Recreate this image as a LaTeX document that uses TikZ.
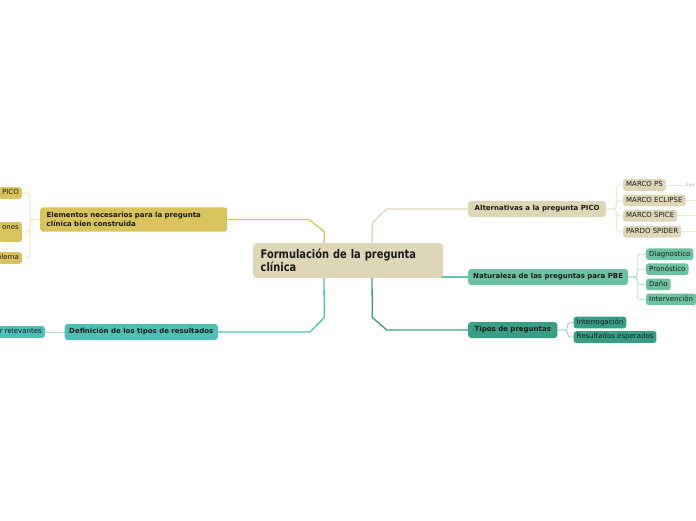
\documentclass[tikz,border=0pt]{standalone}
\usepackage{fontspec}
\setmainfont{DejaVu Sans}
\newfontfamily\rootfont[FakeStretch=0.83]{DejaVu Sans}
\usetikzlibrary{backgrounds}
\definecolor{rootc}{HTML}{DDD6B7}
\definecolor{goldc}{HTML}{D9C35C}
\definecolor{goldl}{HTML}{EFE4B0}
\definecolor{tealc}{HTML}{4DBFB5}
\definecolor{teall}{HTML}{A8DFDA}
\definecolor{beigec}{HTML}{DDD6B7}
\definecolor{beigel}{HTML}{EDE9DA}
\definecolor{mintc}{HTML}{6CC2A0}
\definecolor{mintl}{HTML}{B8E2D1}
\definecolor{greenc}{HTML}{3A9E86}
\definecolor{greenl}{HTML}{A3D4C7}
\definecolor{txt}{HTML}{1A1A1A}
\begin{document}
\begin{tikzpicture}[x=1pt,y=-1pt,
  mainbox/.style={rounded corners=3pt, inner xsep=6.5pt, inner ysep=0pt, minimum height=16pt,
    font=\fontsize{7}{8.3}\selectfont\bfseries, text=txt},
  oneline/.style={text height=5.3pt, text depth=1.5pt},
  childbox/.style={rounded corners=2.5pt, inner xsep=3pt, inner ysep=0pt, minimum height=11.6pt,
    font=\fontsize{7}{8.5}\selectfont, text=txt, text height=5.3pt, text depth=1.5pt},
  conn/.style={line width=1.3pt},
  br/.style={line width=0.9pt, rounded corners=3pt},
]
\useasboundingbox (0,0) rectangle (696,520);

% root
\node[fill=rootc, rounded corners=4pt, anchor=west, inner xsep=7.5pt, inner ysep=0pt,
  text width=175pt, align=left, minimum height=35pt,
  font=\rootfont\bfseries\fontsize{11.9}{12.8}\selectfont, text=txt] (root) at (253,260.7)
  {Formulación de la pregunta\\clínica};

% main branches
\node[mainbox, fill=goldc, anchor=west, text width=174pt, align=left, minimum height=24.4pt] (elem) at (40,219.5)
  {Elementos necesarios para la pregunta\\clínica bien construida};
\node[mainbox, oneline, fill=tealc, anchor=east, inner xsep=4.5pt] (def) at (218,332) {Definición de los tipos de resultados};
\node[mainbox, oneline, fill=beigec, anchor=west] (alt) at (468,209) {Alternativas a la pregunta PICO};
\node[mainbox, oneline, fill=mintc, anchor=west, inner xsep=5pt] (nat) at (468,277) {Naturaleza de las preguntas para PBE};
\node[mainbox, oneline, fill=greenc, anchor=west] (tip) at (468,330) {Tipos de preguntas};

% children left
\node[childbox, fill=goldc, anchor=east] (pico) at (22,193) {PICO};
\node[childbox, fill=goldc, anchor=east, text depth=10.2pt, minimum height=20pt] (ones) at (22,232) {ones};
\node[childbox, fill=goldc, anchor=east] (blema) at (22,258) {blema};
\node[childbox, fill=tealc, anchor=east] (rel) at (45,332) {r relevantes};

% children of Alternativas
\node[childbox, fill=beigec, anchor=west] (ps) at (623,185) {MARCO PS};
\node[childbox, fill=beigec, anchor=west] (ecl) at (623,200.4) {MARCO ECLIPSE};
\node[childbox, fill=beigec, anchor=west] (spi) at (623,215.9) {MARCO SPICE};
\node[childbox, fill=beigec, anchor=west] (spd) at (623,231.8) {PARDO SPIDER};
\node[anchor=west, inner sep=0pt, font=\fontsize{4.5}{5}\selectfont, text=black!35] (exa) at (686,185) {Exa};
\coordinate (e2) at (700,200.4);
\coordinate (e3) at (700,215.9);
\coordinate (e4) at (700,231.8);

% children of Naturaleza
\node[childbox, fill=mintc, anchor=west] (diag) at (646,254.2) {Diagnostico};
\node[childbox, fill=mintc, anchor=west] (pron) at (646,269.2) {Pronóstico};
\node[childbox, fill=mintc, anchor=west] (dano) at (646,284.4) {Daño};
\node[childbox, fill=mintc, anchor=west] (inter) at (646,299.3) {Intervención};

% children of Tipos
\node[childbox, fill=greenc, anchor=west] (interr) at (573.5,322.5) {Interrogación};
\node[childbox, fill=greenc, anchor=west] (res) at (573.5,337) {Resultados esperados};

\begin{pgfonlayer}{background}
\draw[conn, goldc] ([xshift=71pt,yshift=-2pt]root.north west) -- (324.3,231.7) -- (309,219.5) -- (elem.east);
\draw[conn, tealc] ([xshift=71pt,yshift=2pt]root.south west) -- (324.3,317.5) -- (310,332) -- (def.east);
\draw[conn, beigec] ([xshift=119pt,yshift=-2pt]root.north west) -- (372.3,222.7) -- (386.7,209) -- (alt.west);
\draw[conn, mintc] (root.center |- nat.west) -- (nat.west);
\draw[conn, greenc] ([xshift=119pt,yshift=2pt]root.south west) -- (372.3,317.5) -- (386.7,330) -- (tip.west);

\draw[br, goldl] (elem.west) -- ++(-10,0) |- (pico.east);
\draw[br, goldl] (elem.west) -- ++(-10,0) |- (ones.east);
\draw[br, goldl] (elem.west) -- ++(-10,0) |- (blema.east);
\draw[br, teall] (def.west) -- (rel.east);

\draw[br, beigel] (alt.east) -- ++(10,0) |- (ps.west);
\draw[br, beigel] (alt.east) -- ++(10,0) |- (ecl.west);
\draw[br, beigel] (alt.east) -- ++(10,0) |- (spi.west);
\draw[br, beigel] (alt.east) -- ++(10,0) |- (spd.west);
\draw[br, beigel] (ps.east) -- ([xshift=-1pt]exa.west);
\draw[br, beigel] (ecl.east) -- (e2);
\draw[br, beigel] (spi.east) -- (e3);
\draw[br, beigel] (spd.east) -- (e4);

\draw[br, mintl] (nat.east) -- ++(9,0) |- (diag.west);
\draw[br, mintl] (nat.east) -- ++(9,0) |- (pron.west);
\draw[br, mintl] (nat.east) -- ++(9,0) |- (dano.west);
\draw[br, mintl] (nat.east) -- ++(9,0) |- (inter.west);

\draw[br, greenl] (tip.east) -- ++(10,0) |- (interr.west);
\draw[br, greenl] (tip.east) -- ++(10,0) |- (res.west);
\end{pgfonlayer}
\end{tikzpicture}
\end{document}
